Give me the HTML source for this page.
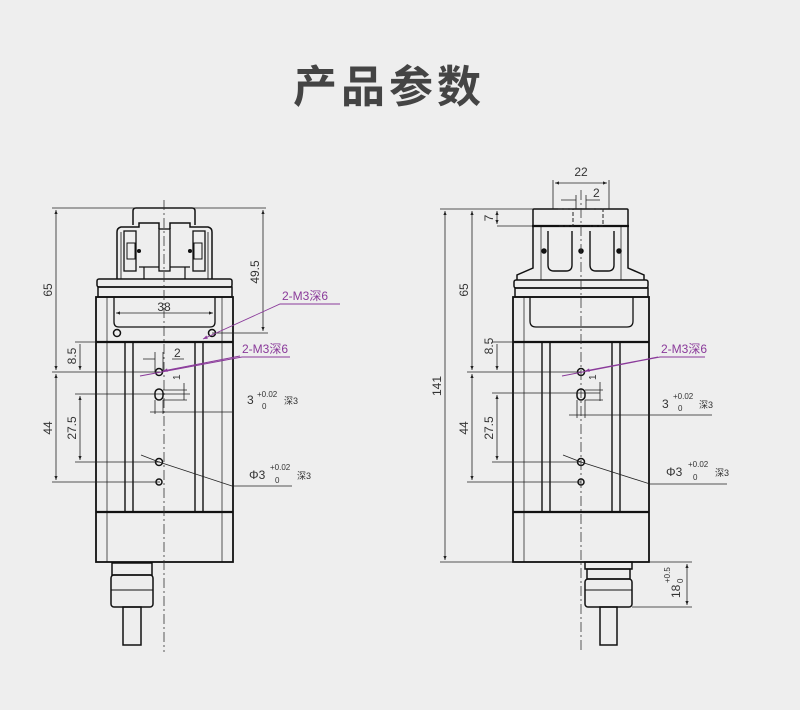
<!DOCTYPE html>
<html><head><meta charset="utf-8"><style>
html,body{margin:0;padding:0;background:#eeeeee;}
svg{display:block}
text{font-family:"Liberation Sans","Noto Sans CJK SC",sans-serif;fill:#333}
</style></head><body>
<svg width="800" height="710" viewBox="0 0 800 710" xmlns="http://www.w3.org/2000/svg">
<defs>
<marker id="a" viewBox="0 0 10 10" refX="10" refY="5" markerWidth="7" markerHeight="5" orient="auto-start-reverse"><path d="M0,1 L10,5 L0,9z" fill="#222"/></marker>
<marker id="p" viewBox="0 0 10 10" refX="10" refY="5" markerWidth="7" markerHeight="5" orient="auto"><path d="M0,1 L10,5 L0,9z" fill="#8a3a9a"/></marker>
</defs>
<text x="389" y="102" text-anchor="middle" font-size="44" font-weight="bold" letter-spacing="4" style="fill:#444">产品参数</text>

<!-- LEFT VIEW -->
<g stroke="#111" fill="none" stroke-width="1.5">
<path d="M133,225 V211 Q133,208 136,208 H192 Q195,208 195,211 V225"/>
<path d="M117,279 V232 Q117,228 121,227 H139 V223 H159 V229"/>
<path d="M212,279 V232 Q212,228 208,227 H190 V223 H170 V229"/>
<path d="M121,279 V232 M208,279 V232" stroke-width="0.8"/>
<rect x="124" y="231" width="12" height="40" stroke-width="1.3"/>
<rect x="193" y="231" width="12" height="40" stroke-width="1.3"/>
<rect x="127" y="243" width="8" height="16" stroke-width="1"/>
<rect x="194" y="243" width="8" height="16" stroke-width="1"/>
<circle cx="139" cy="251" r="1.3" fill="#111"/><circle cx="190" cy="251" r="1.3" fill="#111"/>
<rect x="159" y="229" width="11" height="42" stroke-width="1.3"/>
<path d="M139,267 H159 M170,267 H190 M144,267 V279 M185,267 V279" stroke-width="1.2"/>
<rect x="97" y="279" width="135" height="8" rx="2"/>
<rect x="98" y="287" width="134" height="10"/>
<rect x="96" y="297" width="137" height="265" stroke-width="1.8"/>
<path d="M107,297 V562 M222,297 V562" stroke-width="0.7"/>
<path d="M114,297 V322 Q114,327 119,327 H210 Q215,327 215,322 V297" stroke-width="1.3"/>
<path d="M96,342 H233 M96,512 H233" stroke-width="2.2"/>
<path d="M125,342 V512 M133,342 V512 M195,342 V512 M203,342 V512" stroke-width="1.4"/>
<circle cx="117" cy="333" r="3.5"/><circle cx="212" cy="333" r="3.5"/>
<circle cx="159" cy="372" r="3.5"/>
<rect x="155" y="389" width="8" height="11" rx="4"/>
<circle cx="159" cy="462" r="3.5"/><circle cx="159" cy="482" r="3"/>
<rect x="112" y="563" width="40" height="12"/>
<rect x="111" y="575" width="42" height="32" rx="3"/>
<path d="M111,590 H153" stroke-width="1"/>
<rect x="123" y="607" width="18" height="38"/>
</g>
<path d="M164,200 V652" stroke="#333" stroke-width="0.8" stroke-dasharray="10,3,2,3"/>
<g stroke="#222" stroke-width="0.8" fill="none">
<path d="M52,208 H266 M52,372 H160 M52,482 H160 M75,342 H100 M75,394 H190 M75,462 H160 M212,333 H268"/>
<path d="M56,210 V370" marker-start="url(#a)" marker-end="url(#a)"/>
<path d="M56,374 V480" marker-start="url(#a)" marker-end="url(#a)"/>
<path d="M80,344 V370" marker-end="url(#a)"/>
<path d="M80,396 V460" marker-start="url(#a)" marker-end="url(#a)"/>
<path d="M263,210 V331" marker-start="url(#a)" marker-end="url(#a)"/>
<path d="M116,313 H213" marker-start="url(#a)" marker-end="url(#a)"/>
<path d="M143,359 H155 M184,359 H172 M155,352 V372 M163,352 V372" />
<path d="M184,383 V400 M163,390 H187 M163,400 H187"/>
<path d="M150,412 H232 M155,400 V414 M163,400 V414"/>
<path d="M141,455 L159,462 L232,486 H292"/>
</g>
<g font-size="12">
<text transform="translate(52,290) rotate(-90)" text-anchor="middle">65</text>
<text transform="translate(52,428) rotate(-90)" text-anchor="middle">44</text>
<text transform="translate(76,356) rotate(-90)" text-anchor="middle">8.5</text>
<text transform="translate(76,428) rotate(-90)" text-anchor="middle">27.5</text>
<text transform="translate(259,272) rotate(-90)" text-anchor="middle">49.5</text>
<text x="164" y="311" text-anchor="middle">38</text>
<text x="174" y="357">2</text>
<text transform="translate(180,380) rotate(-90)" font-size="10">1</text>
<text x="247" y="404">3</text><text x="257" y="397" font-size="8">+0.02</text><text x="262" y="409" font-size="8">0</text><text x="284" y="404" font-size="9">深3</text>
<text x="249" y="479">Φ3</text><text x="270" y="470" font-size="8">+0.02</text><text x="275" y="483" font-size="8">0</text><text x="297" y="479" font-size="9">深3</text>
</g>
<g stroke="#8a3a9a" stroke-width="0.9" fill="none">
<path d="M340,304 H280 L203,339" marker-end="url(#p)"/>
<path d="M290,357 H242 L140,376"/>
<path d="M240,356 L163,371" marker-end="url(#p)"/>
</g>
<g font-size="12">
<text x="282" y="300" style="fill:#8a3a9a">2-M3深6</text>
<text x="242" y="353" style="fill:#8a3a9a">2-M3深6</text>
</g>

<!-- RIGHT VIEW -->
<g stroke="#111" fill="none" stroke-width="1.5">
<rect x="533" y="209" width="95" height="17" rx="1"/>
<path d="M532,226 H629" stroke-width="2.2"/>
<path d="M533,226 V268 L517,275 V280 M628,226 V268 L644,275 V280"/>
<path d="M548,231 V265 Q548,271 554,271 H566 Q572,271 572,265 V231 M590,231 V265 Q590,271 596,271 H608 Q614,271 614,265 V231" stroke-width="1.4"/>
<path d="M541,226 V280 M621,226 V280" stroke-width="0.7"/>
<circle cx="544" cy="251" r="2" fill="#111"/><circle cx="581" cy="251" r="2" fill="#111"/><circle cx="619" cy="251" r="2" fill="#111"/>
<rect x="514" y="280" width="134" height="8" rx="2"/>
<rect x="515" y="288" width="133" height="9"/>
<rect x="513" y="297" width="136" height="265" stroke-width="1.8"/>
<path d="M524,297 V562" stroke-width="0.7"/>
<path d="M530,297 V321 Q530,327 536,327 H627 Q633,327 633,321 V297" stroke-width="1.3"/>
<path d="M513,342 H649 M513,512 H649" stroke-width="2.2"/>
<path d="M542,342 V512 M550,342 V512 M612,342 V512 M620,342 V512" stroke-width="1.4"/>
<circle cx="581" cy="372" r="3.5"/>
<rect x="577" y="389" width="8" height="11" rx="4"/>
<circle cx="581" cy="462" r="3.5"/><circle cx="581" cy="482" r="3"/>
<rect x="585" y="562" width="47" height="7"/>
<rect x="587" y="569" width="43" height="10"/>
<rect x="585" y="579" width="47" height="28" rx="3"/>
<path d="M585,590 H632" stroke-width="1"/>
<rect x="600" y="607" width="17" height="38"/>
</g>
<path d="M558,209 H573 V226 H558 M590,209 H603 V226 H590" stroke="#222" stroke-width="1" fill="none" stroke-dasharray="4,2"/>
<path d="M581,190 V652" stroke="#333" stroke-width="0.8" stroke-dasharray="10,3,2,3"/>
<g stroke="#222" stroke-width="0.8" fill="none">
<path d="M553,180 V209 M609,180 V209"/>
<path d="M555,183 H607" marker-start="url(#a)" marker-end="url(#a)"/>
<path d="M561,200 H576 M600,200 H586 M576,195 V209 M586,195 V209"/>
<path d="M440,209 H533 M440,562 H513 M467,372 H581 M467,482 H581 M492,342 H515 M492,393 H600 M492,462 H581 M497,226 H533 M632,607 H692 M649,562 H692"/>
<path d="M445,211 V560" marker-start="url(#a)" marker-end="url(#a)"/>
<path d="M472,211 V370" marker-start="url(#a)" marker-end="url(#a)"/>
<path d="M472,374 V480" marker-start="url(#a)" marker-end="url(#a)"/>
<path d="M497,344 V370" marker-end="url(#a)"/>
<path d="M497,395 V460" marker-start="url(#a)" marker-end="url(#a)"/>
<path d="M497,211 V224" marker-start="url(#a)" marker-end="url(#a)"/>
<path d="M687,564 V605" marker-start="url(#a)" marker-end="url(#a)"/>
<path d="M600,382 V401 M585,390 H603 M585,400 H603"/>
<path d="M569,415 H593 M577,400 V418 M585,400 V418 M593,415 H712"/>
<path d="M563,455 L581,462 L650,484 H727"/>
</g>
<g font-size="12">
<text x="581" y="176" text-anchor="middle">22</text>
<text x="593" y="197">2</text>
<text transform="translate(493,218) rotate(-90)" text-anchor="middle">7</text>
<text transform="translate(441,386) rotate(-90)" text-anchor="middle">141</text>
<text transform="translate(468,290) rotate(-90)" text-anchor="middle">65</text>
<text transform="translate(468,428) rotate(-90)" text-anchor="middle">44</text>
<text transform="translate(493,346) rotate(-90)" text-anchor="middle">8.5</text>
<text transform="translate(493,428) rotate(-90)" text-anchor="middle">27.5</text>
<text transform="translate(596,380) rotate(-90)" font-size="10">1</text>
<text x="662" y="408">3</text><text x="673" y="399" font-size="8">+0.02</text><text x="678" y="411" font-size="8">0</text><text x="699" y="408" font-size="9">深3</text>
<text x="666" y="476">Φ3</text><text x="688" y="467" font-size="8">+0.02</text><text x="693" y="480" font-size="8">0</text><text x="715" y="476" font-size="9">深3</text>
<text transform="translate(680,598) rotate(-90)">18</text>
<text transform="translate(670,583) rotate(-90)" font-size="8">+0.5</text>
<text transform="translate(683,583) rotate(-90)" font-size="8">0</text>
</g>
<g stroke="#8a3a9a" stroke-width="0.9" fill="none">
<path d="M705,357 H660 L562,376"/>
<path d="M658,357 L585,371" marker-end="url(#p)"/>
</g>
<text x="661" y="353" font-size="12" style="fill:#8a3a9a">2-M3深6</text>
</svg>
</body></html>
